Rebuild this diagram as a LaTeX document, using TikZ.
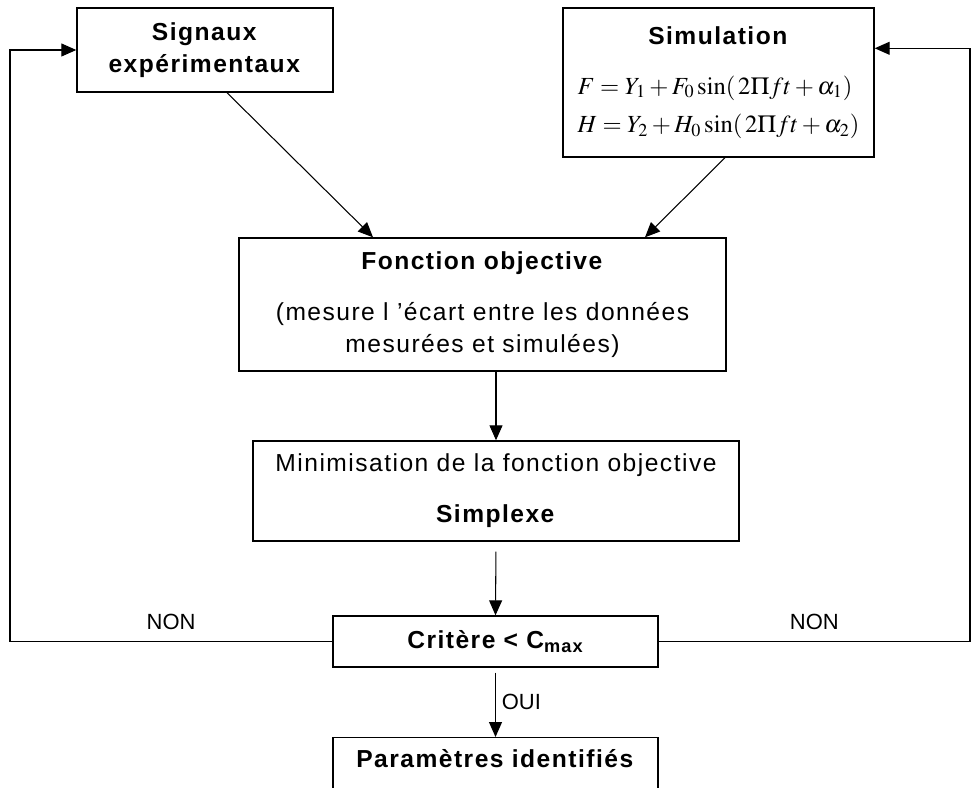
\documentclass[tikz,border=0pt]{standalone}
\usepackage{mathptmx}
\usepackage{fontspec}
\setmainfont{Liberation Sans}
\usetikzlibrary{arrows.meta, positioning}

\begin{document}
\begin{tikzpicture}[
  box/.style={draw, line width=0.8pt, align=center, inner sep=2pt,
              font=\fontsize{14}{18}\selectfont\addfontfeature{LetterSpace=6}},
  arr/.style={-{Triangle[length=3mm, width=2.6mm]}, line width=0.6pt},
  lbl/.style={font=\fontsize{12.5}{14}\selectfont}
]
\clip (0,0) rectangle (19.44,-15.74);
\coordinate (lft) at (0.2,0);
\coordinate (rgt) at (19.4,0);
\node[box, minimum width=5.12cm, minimum height=1.68cm] (sig) at (4.1,-1.0)
     {\textbf{Signaux}\\\textbf{expérimentaux}};
\node[box, minimum width=6.22cm, minimum height=2.98cm] (sim) at (14.37,-1.65)
     {\begin{tabular}{@{}l@{}}
      \multicolumn{1}{@{}c@{}}{\textbf{Simulation}}\\[10pt]
      $F = Y_1 + F_0 \sin(\,2\Pi ft + \alpha_1)$\\[4pt]
      $H = Y_2 + H_0 \sin(\,2\Pi ft + \alpha_2)$
      \end{tabular}};
\node[box, minimum width=9.74cm, minimum height=2.66cm] (fonc) at (9.65,-6.09)
     {\textbf{Fonction objective}\\[11pt]
      (mesure l ’écart entre les données\\
      mesurées et simulées)};
\node[box, minimum width=9.72cm, minimum height=2.0cm] (mini) at (9.92,-9.82)
     {Minimisation de la fonction objective\\[11pt]\textbf{Simplexe}};
\node[box, minimum width=6.5cm, minimum height=1.02cm] (crit) at (9.91,-12.83)
     {\textbf{Critère < C\textsubscript{max}}};
\node[box, minimum width=6.5cm, minimum height=1.4cm, text depth=16pt,
      anchor=north] (param) at (9.91,-14.74)
     {\textbf{Paramètres identifiés}};
% liaisons
\draw[arr] ([xshift=0.44cm]sig.south) -- ([xshift=-2.19cm]fonc.north);
\draw[arr] ([xshift=0.13cm]sim.south) -- ([xshift=3.25cm]fonc.north);
\draw[arr] (mini.north |- fonc.south) -- (mini.north);
\draw[arr, shorten <=2mm] (mini.south) -- (crit.north);
\draw[arr, shorten <=1mm] (crit.south) -- node[right, lbl]{OUI} (param.north);
% boucles de retour
\draw[arr] (crit.west) -- node[above=3pt, lbl]{NON} (crit.west -| lft) |- (sig.west);
\draw[arr] (crit.east) -- node[above=3pt, lbl]{NON} (crit.east -| rgt)
           |- ([yshift=-0.82cm]sim.north east);
\end{tikzpicture}
\end{document}
